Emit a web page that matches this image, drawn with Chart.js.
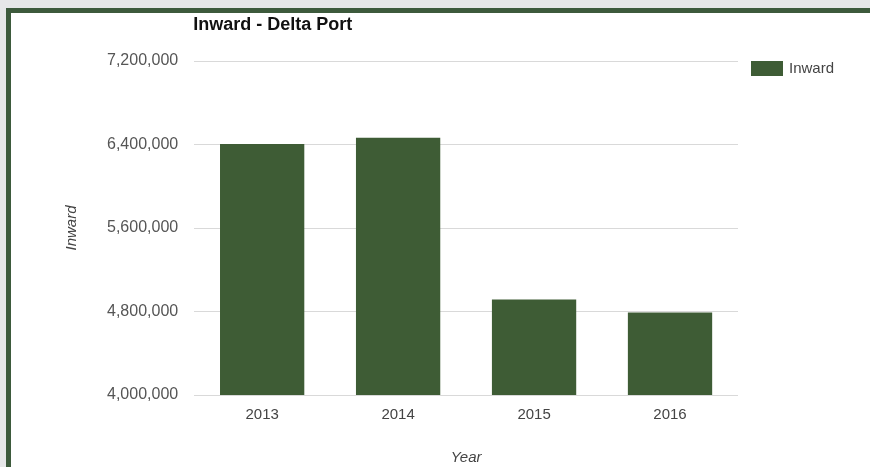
<!DOCTYPE html>
<html>
<head>
<meta charset="utf-8">
<script src="https://cdn.jsdelivr.net/npm/chart.js@4.4.0/dist/chart.umd.min.js"></script>
<style>
  html, body { margin: 0; padding: 0; background: #e6e7e8; overflow: hidden; }
  #frame { position: absolute; left: 6px; top: 8px; width: 900px; height: 500px;
           border-left: 5px solid #3d5a3c; border-top: 5px solid #3d5a3c; background: #fff; }
  #wrap { position: absolute; left: 0; top: 0; width: 870px; height: 467px; }
</style>
</head>
<body>
<div id="frame"></div>
<div id="wrap"><canvas id="myChart" width="870" height="467"></canvas></div>
<script>
  // chart data
  var years = ["2013", "2014", "2015", "2016"];
  var inward = [6405000, 6465000, 4915000, 4790000];
  var yTicks = [4000000, 4800000, 5600000, 6400000, 7200000];

  var barColor = "#3e5c35";
  var fontFam = "'Liberation Sans', Arial, sans-serif";

  // title at the plot's left edge and a legend to the right of the plot
  var sidePlugin = {
    id: "sideBits",
    afterDraw: function(chart) {
      var ctx = chart.ctx;
      var area = chart.chartArea;
      ctx.save();
      ctx.font = "bold 18px " + fontFam;
      ctx.fillStyle = "#111";
      ctx.textBaseline = "middle";
      ctx.textAlign = "left";
      ctx.fillText("Inward - Delta Port", area.left - 1, 25);

      var ds = chart.data.datasets[0];
      var bx = area.right + 13;
      ctx.fillStyle = ds.backgroundColor;
      ctx.fillRect(bx, area.top, 32, 15);
      ctx.font = "15px " + fontFam;
      ctx.fillStyle = "#444";
      ctx.fillText(ds.label, bx + 38, area.top + 8);
      ctx.restore();
    }
  };

  var ctx = document.getElementById("myChart").getContext("2d");
  var config = {
    type: "bar",
    data: {
      labels: years,
      datasets: [{
        label: "Inward",
        data: inward,
        backgroundColor: barColor,
        borderWidth: 0,
        categoryPercentage: 1,
        barPercentage: 0.62
      }]
    },
    options: {
      responsive: false,
      animation: false,
      layout: { padding: { left: 63, right: 132, top: 61, bottom: 0 } },
      plugins: {
        title: { display: false },
        tooltip: { enabled: false },
        legend: { display: false }
      },
      scales: {
        x: {
          grid: { display: false },
          border: { display: false },
          ticks: {
            color: "#444",
            padding: 3,
            font: { family: fontFam, size: 15 }
          },
          title: {
            display: true,
            text: "Year",
            color: "#444",
            padding: { top: 22, bottom: 0 },
            font: { family: fontFam, size: 15, style: "italic" }
          }
        },
        y: {
          min: yTicks[0],
          max: yTicks[yTicks.length - 1],
          afterBuildTicks: function(axis) {
            axis.ticks = yTicks.map(function(v) { return { value: v }; });
          },
          grid: { color: "#d9d9d9", drawTicks: false },
          border: { display: false },
          ticks: {
            color: "#555",
            padding: 16,
            font: { family: fontFam, size: 16 }
          },
          title: {
            display: true,
            text: "Inward",
            color: "#444",
            padding: { top: 0, bottom: 10 },
            font: { family: fontFam, size: 15, style: "italic" }
          }
        }
      }
    },
    plugins: [sidePlugin]
  };

  var chart = new Chart(ctx, config);
</script>
</body>
</html>
